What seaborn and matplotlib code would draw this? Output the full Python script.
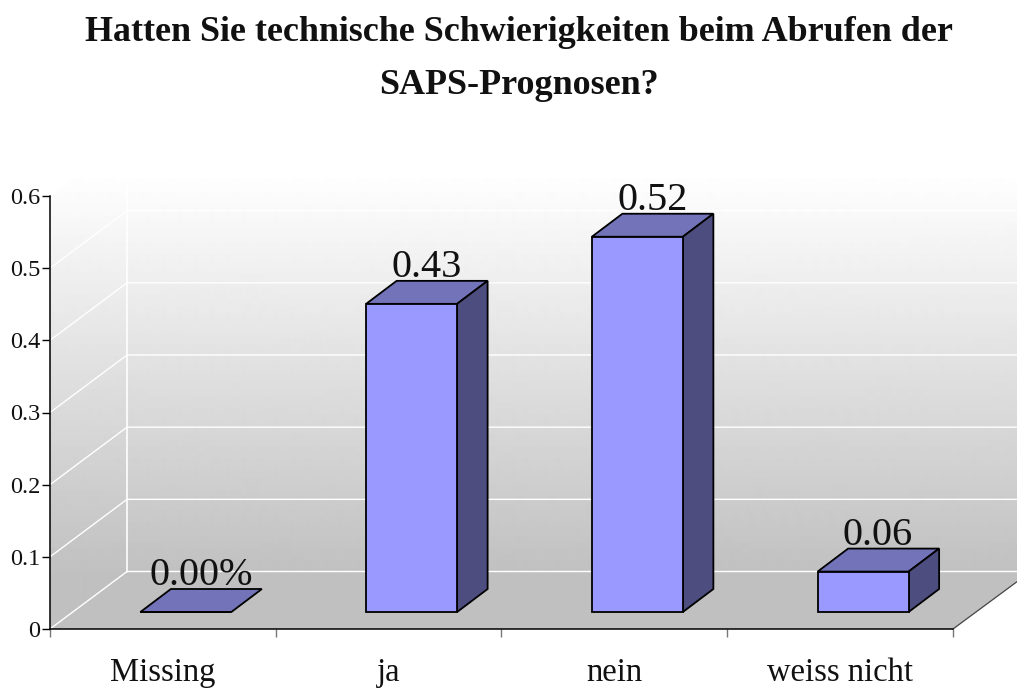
import numpy as np
import matplotlib
matplotlib.use("Agg")
import matplotlib.pyplot as plt
from matplotlib.patches import Polygon
from matplotlib.transforms import Affine2D, IdentityTransform
import seaborn as sns

categories = ["Missing", "ja", "nein", "weiss nicht"]
values = [0.0, 0.427, 0.52, 0.056]
value_labels = ["0.00%", "0.43", "0.52", "0.06"]
y_ticks = [0, 0.1, 0.2, 0.3, 0.4, 0.5, 0.6]
y_tick_labels = ["0", "0.1", "0.2", "0.3", "0.4", "0.5", "0.6"]
title = "Hatten Sie technische Schwierigkeiten beim Abrufen der\nSAPS-Prognosen?"

W, H = 1017, 688
FRONT, TOP, SIDE = "#9999ff", "#7373ba", "#4d4d80"
FONT = "Liberation Serif"
TXT = "#111111"
WALL_DX, WALL_DY = 77, 57.5     # depth of the chart box, pixels
BAR_DX, BAR_DY = 23, 17         # bars stand inside the box, pixels
DEPTH_DX, DEPTH_DY = 30.5, 23   # depth of a bar, pixels
EDGE = 1.3

sns.set_theme(style="white", rc={"font.family": [FONT, "DejaVu Serif"]})
plt.rcParams["font.family"] = [FONT, "DejaVu Serif"]
fig = plt.figure(figsize=(W / 100, H / 100), dpi=100, facecolor="white")

# pixel-space background for the box walls and floor
bg = fig.add_axes([0, 0, 1, 1], zorder=0)
bg.set_xlim(0, W)
bg.set_ylim(H, 0)
bg.axis("off")
grad = np.clip(255 - (np.arange(H) - 172) * (63 / 403), 192, 255)[:, None]
wall = bg.imshow(grad, cmap="gray", vmin=0, vmax=255, extent=(0, W, H, 0),
                 aspect="auto", interpolation="bilinear")
clip = Polygon([(50, 196), (127.5, 138), (W, 138), (W, 572), (127.5, 572), (50, 629)],
               closed=True, transform=bg.transData, fc="none", ec="none")
bg.add_patch(clip)
wall.set_clip_path(clip)
bg.set_xlim(0, W)
bg.set_ylim(H, 0)
bg.add_patch(Polygon([(50, 629), (127.5, 571.5), (W, 571.5), (W, 581.7), (953, 629)],
                     closed=True, fc="#c0c0c0", ec="none"))
bg.plot([953, W], [629, 581.7], color="#444444", lw=0.9)

# main axes
ax = fig.add_axes([50 / W, (H - 629) / H, 903 / W, 433 / H], zorder=2)
ax.patch.set_alpha(0)
sns.barplot(x=categories, y=values, ax=ax, color=FRONT, saturation=1, width=0.403,
            edgecolor="black", linewidth=EDGE, zorder=5)
ax.set_xlim(-0.5, 3.5)
ax.set_ylim(0, 0.6)
sns.despine(ax=ax)
for s in ("left", "bottom"):
    ax.spines[s].set_color("black")
    ax.spines[s].set_linewidth(1.1)

# gridlines on the walls
to_px = ax.transData.transform
for v in y_ticks:
    x0, y0 = to_px((-0.5, v))
    ax.plot([x0, x0 + WALL_DX, W + 5], [y0, y0 + WALL_DY, y0 + WALL_DY], color="white",
            lw=1.0, transform=IdentityTransform(), clip_on=False, zorder=1)
x0, y0 = to_px((-0.5, 0))
_, y1 = to_px((-0.5, 0.6))
ax.plot([x0 + WALL_DX] * 2, [y0 + WALL_DY, y1 + WALL_DY], color="white", lw=1.2,
        transform=IdentityTransform(), clip_on=False, zorder=1)

# 3D faces of each bar
shift = ax.transData + Affine2D().translate(BAR_DX, BAR_DY)
for p in ax.patches:
    p.set_transform(shift)
    p.set_clip_on(False)
    xa, xb = p.get_x(), p.get_x() + p.get_width()
    h = p.get_height()
    (ax0, ay0), (bx0, by0), (bx1, by1) = shift.transform([(xa, h), (xb, h), (xb, 0)])
    ax.add_patch(Polygon([(ax0, ay0), (bx0, by0), (bx0 + DEPTH_DX, by0 + DEPTH_DY),
                          (ax0 + DEPTH_DX, ay0 + DEPTH_DY)], closed=True, fc=TOP, ec="black",
                         lw=EDGE, transform=IdentityTransform(), clip_on=False, zorder=4))
    if h > 0:
        ax.add_patch(Polygon([(bx0, by0), (bx1, by1), (bx1 + DEPTH_DX, by1 + DEPTH_DY),
                              (bx0 + DEPTH_DX, by0 + DEPTH_DY)], closed=True, fc=SIDE, ec="black",
                             lw=EDGE, transform=IdentityTransform(), clip_on=False, zorder=4))

# value labels
for i, (v, lab) in enumerate(zip(values, value_labels)):
    ax.annotate(lab, xy=(i, v), xytext=(38 * 0.72, 43.6 * 0.72), textcoords="offset points",
                ha="center", va="baseline", fontsize=29, color=TXT, zorder=6,
                annotation_clip=False)

# ticks
ax.set_yticks(y_ticks)
ax.set_yticklabels(y_tick_labels, fontsize=17.5, color=TXT)
ax.tick_params(axis="y", length=6, width=1.0, color="black", pad=1, left=True)
ax.set_xticks(range(len(categories)))
ax.set_xticklabels(categories, fontsize=23.5, color=TXT)
ax.tick_params(axis="x", which="major", length=0, pad=20.5, bottom=False)
ax.set_xticks(np.arange(len(categories) + 1) - 0.5, minor=True)
ax.tick_params(axis="x", which="minor", length=6, width=1.0, color="#777777", bottom=True)
ax.xaxis.get_minor_ticks()[0].tick1line.set_color("black")
ax.set_xlabel("")
ax.set_ylabel("")
ax.grid(False)

fig.text(518.5 / W, 1 - 59 / H, title, ha="center", va="center", fontsize=25.9,
         fontweight="bold", color=TXT, linespacing=1.77)

fig.savefig("out.png", dpi=100, facecolor="white")
